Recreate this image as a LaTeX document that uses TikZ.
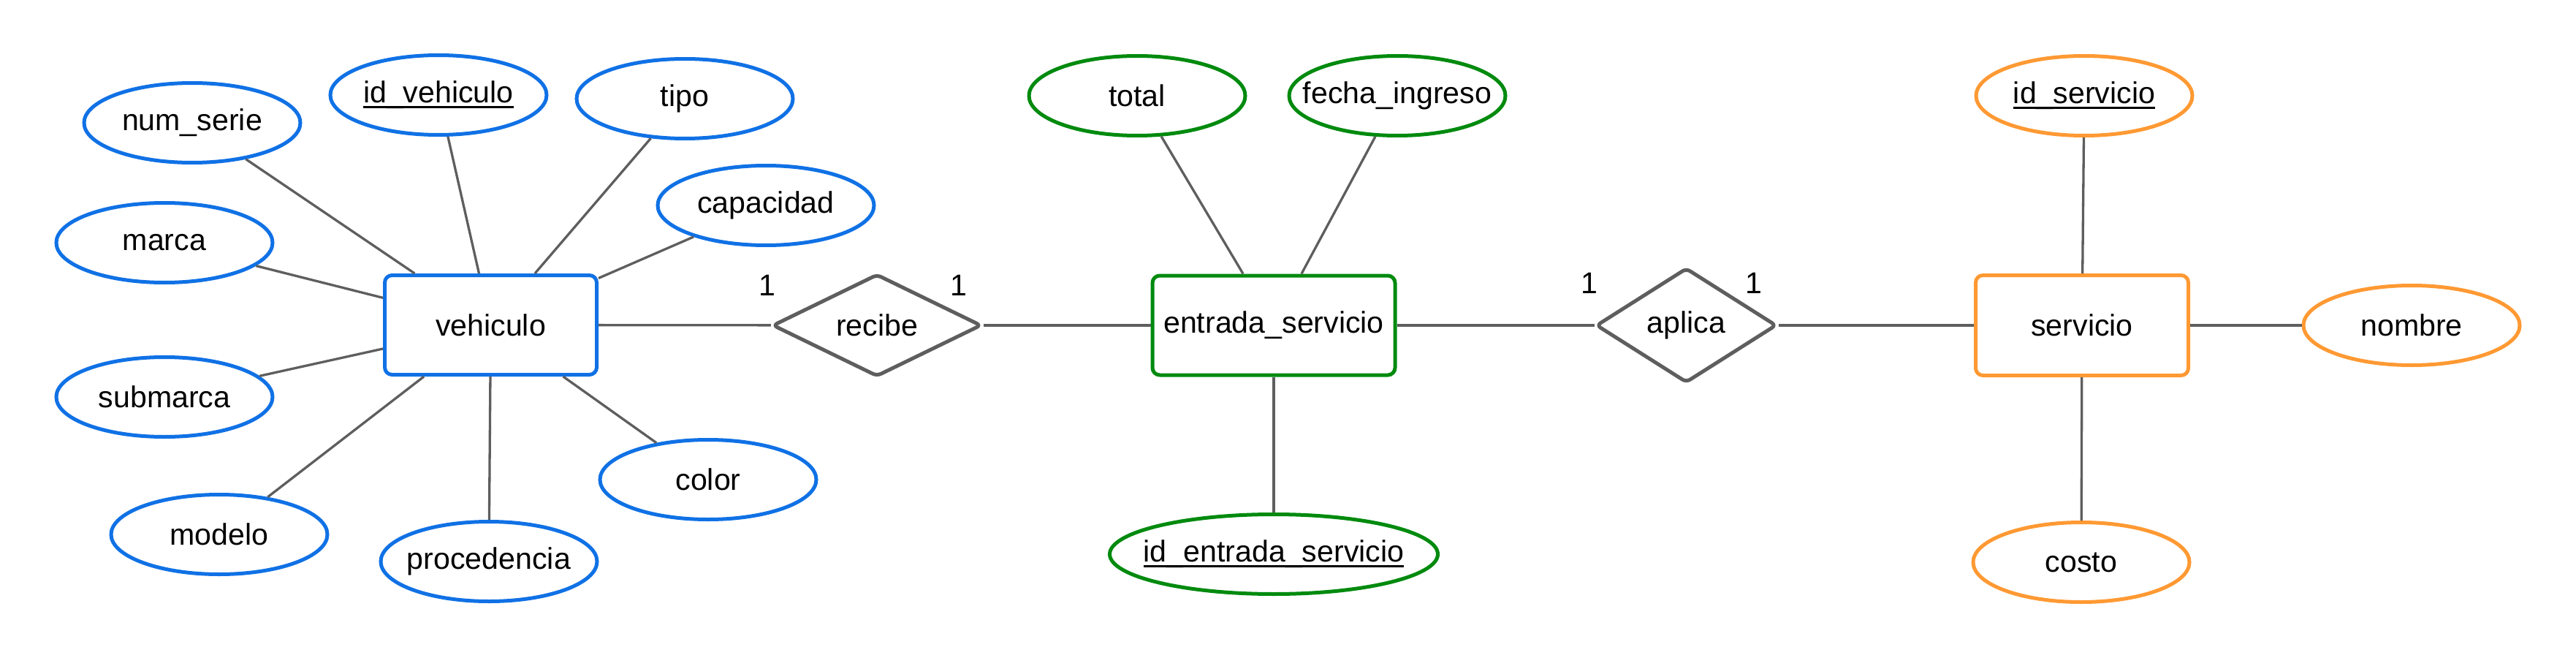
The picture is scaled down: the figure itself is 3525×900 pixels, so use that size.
\documentclass[tikz,border=0pt]{standalone}
\usepackage{fontspec}
\setmainfont{Liberation Sans}
\usetikzlibrary{shapes.geometric}
\definecolor{eblue}{HTML}{1071E5}
\definecolor{egreen}{HTML}{008A0E}
\definecolor{eorange}{HTML}{FF9933}
\definecolor{egray}{HTML}{5E5E5E}
\newcommand{\atxt}[1]{\makebox[0pt]{#1}}
\newcommand{\keyul}[1]{\setbox0\hbox{#1}\rlap{\rule[-0.17em]{\wd0}{0.07em}}\box0}
\begin{document}
\begin{tikzpicture}[x=0.1mm,y=-0.1mm,
  every node/.style={font=\fontsize{11.7pt}{14pt}\selectfont, text=black},
  attr/.style={ellipse, draw, line width=0.5mm, inner sep=0pt, minimum width=29.6mm, minimum height=10.9mm, fill=white},
  ent/.style={rectangle, draw, line width=0.5mm, rounded corners=1mm, inner sep=0pt, minimum height=13.6mm, fill=white},
  rel/.style={diamond, draw=egray, line width=0.5mm, rounded corners=0.6mm, inner sep=0pt, fill=white},
  conn/.style={draw=egray, line width=0.33mm},
  card/.style={inner sep=0pt}
]
\useasboundingbox (0,0) rectangle (3525,900);

% entities
\node[ent, draw=eblue, minimum width=29mm] (veh) at (671.5,444.5) {vehiculo};
\node[ent, draw=egreen, minimum width=33.2mm] (ent) at (1743,445) {entrada\_servicio};
\node[ent, draw=eorange, minimum width=29.1mm, minimum height=13.7mm] (serv) at (2849,445) {servicio};

% relationships
\node[rel, minimum width=28.6mm, minimum height=14mm] (rec) at (1200,445) {\atxt{recibe}};
\node[rel, minimum width=24.7mm, minimum height=15.7mm] (apl) at (2307.5,445) {\atxt{aplica}};

% vehiculo attributes
\node[attr, draw=eblue] (numserie) at (263,168) {\atxt{num\_serie}};
\node[attr, draw=eblue] (idveh) at (600,130) {\atxt{\keyul{id\_vehiculo}}};
\node[attr, draw=eblue] (tipo) at (937,135) {\atxt{tipo}};
\node[attr, draw=eblue] (cap) at (1048,281) {\atxt{capacidad}};
\node[attr, draw=eblue] (marca) at (225,332) {\atxt{marca}};
\node[attr, draw=eblue] (submarca) at (225,543) {\atxt{submarca}};
\node[attr, draw=eblue] (modelo) at (300,731) {\atxt{modelo}};
\node[attr, draw=eblue] (proc) at (669,768) {\atxt{procedencia}};
\node[attr, draw=eblue] (color) at (969,656) {\atxt{color}};

% entrada_servicio attributes
\node[attr, draw=egreen] (total) at (1556,131) {\atxt{total}};
\node[attr, draw=egreen] (fecha) at (1912,131) {\atxt{fecha\_ingreso}};
\node[attr, draw=egreen, minimum width=44.9mm] (ident) at (1743,758) {\atxt{\keyul{id\_entrada\_servicio}}};

% servicio attributes
\node[attr, draw=eorange] (idserv) at (2852,131) {\atxt{\keyul{id\_servicio}}};
\node[attr, draw=eorange] (nombre) at (3300,445) {\atxt{nombre}};
\node[attr, draw=eorange] (costo) at (2848,769) {\atxt{costo}};

% cardinalities
\node[card] (c1) at (1050,390) {1};
\node[card] (c2) at (1312,390) {1};
\node[card] (c3) at (2175,387) {1};
\node[card] (c4) at (2400,387) {1};

% connectors
\foreach \a in {numserie,idveh,tipo,cap,marca,submarca,modelo,proc,color}
  \draw[conn] (veh) -- (\a);
\draw[conn] (veh) -- (rec);
\draw[conn] (rec) -- (ent);
\draw[conn] (ent) -- (total);
\draw[conn] (ent) -- (fecha);
\draw[conn] (ent) -- (ident);
\draw[conn] (ent) -- (apl);
\draw[conn] (apl) -- (serv);
\draw[conn] (serv) -- (idserv);
\draw[conn] (serv) -- (nombre);
\draw[conn] (serv) -- (costo);
\end{tikzpicture}
\end{document}
